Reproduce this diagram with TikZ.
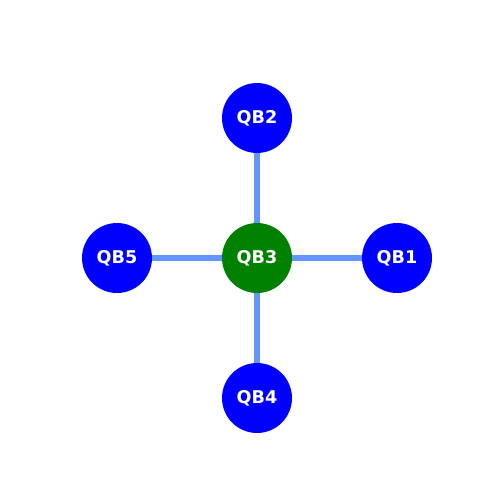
\documentclass[tikz,border=0pt]{standalone}
\usepackage{fontspec}
\setmainfont{DejaVu Sans}
\definecolor{edgeblue}{RGB}{100,149,255}
\definecolor{qgreen}{RGB}{0,128,0}
\definecolor{qblue}{RGB}{0,0,255}
\begin{document}
\begin{tikzpicture}[x=0.02cm,y=-0.02cm,
  qnode/.style={circle,minimum size=1.4cm,inner sep=0pt,text=white,font=\fontsize{10}{12}\selectfont\bfseries},
  edge/.style={draw=edgeblue,line width=3.2pt}]
\useasboundingbox (0,0) rectangle (500,500);
\node[qnode,fill=qgreen] (qb3) at (257,258) {QB3};
\node[qnode,fill=qblue] (qb2) at (257,118) {QB2};
\node[qnode,fill=qblue] (qb1) at (397,258) {QB1};
\node[qnode,fill=qblue] (qb5) at (117,258) {QB5};
\node[qnode,fill=qblue] (qb4) at (257,398) {QB4};
\draw[edge] (qb3) -- (qb2);
\draw[edge] (qb3) -- (qb1);
\draw[edge] (qb3) -- (qb5);
\draw[edge] (qb3) -- (qb4);
\end{tikzpicture}
\end{document}
